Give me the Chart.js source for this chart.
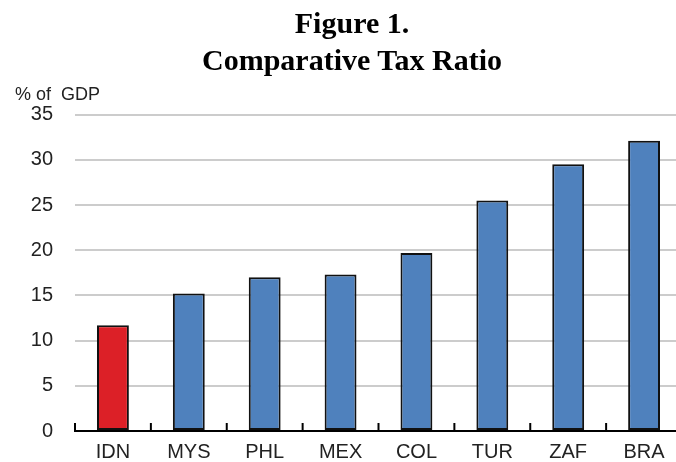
<!DOCTYPE html>
<html>
<head>
<meta charset="utf-8">
<script src="https://cdn.jsdelivr.net/npm/chart.js@4"></script>
<style>
  html, body { margin: 0; padding: 0; background: #fff; overflow: hidden; }
  #wrap { position: relative; width: 676px; height: 462px; overflow: hidden; }
  #title {
    position: absolute; top: 0; left: 0; width: 704px;
    text-align: center; padding-top: 4px;
    font: bold 30px "Liberation Serif", "DejaVu Serif", serif;
    line-height: 37px; color: #000; z-index: 2;
  }
  #taxChart { position: absolute; top: 0; left: 0; }
</style>
</head>
<body>
<div id="wrap">
  <div id="title">Figure 1.<br>Comparative Tax Ratio</div>
  <canvas id="taxChart" width="682" height="465"></canvas>
</div>
<script>
const categories = ['IDN', 'MYS', 'PHL', 'MEX', 'COL', 'TUR', 'ZAF', 'BRA'];
const taxRatio = [11.7, 15.2, 17.0, 17.3, 19.7, 25.5, 29.5, 32.1];
const highlight = 'IDN';
const yMax = 35;
const yStep = 5;
const unitLabel = '% of  GDP';

// small upward tick marks between categories on the x axis
const categoryTicks = {
  id: 'categoryTicks',
  afterDatasetsDraw(chart) {
    const x = chart.scales.x;
    const ctx = chart.ctx;
    const step = x.getPixelForValue(1) - x.getPixelForValue(0);
    ctx.save();
    ctx.strokeStyle = '#000';
    ctx.lineWidth = 2;
    for (let i = 0; i <= categories.length; i++) {
      const px = x.getPixelForValue(i) - step / 2;
      ctx.beginPath();
      ctx.moveTo(px, x.top);
      ctx.lineTo(px, x.top - 8);
      ctx.stroke();
    }
    ctx.restore();
  }
};

new Chart(document.getElementById('taxChart'), {
  type: 'bar',
  data: {
    labels: categories,
    datasets: [{
      data: taxRatio,
      backgroundColor: categories.map(c => c === highlight ? '#dc2027' : '#4f81bd'),
      borderColor: '#111',
      borderWidth: 2,
      borderSkipped: false,
      barPercentage: 0.42,
      categoryPercentage: 1
    }]
  },
  options: {
    responsive: false,
    animation: false,
    layout: { padding: { top: 84, left: 15, right: 0, bottom: 0 } },
    plugins: {
      legend: { display: false },
      tooltip: { enabled: false },
      subtitle: {
        display: true,
        text: unitLabel,
        align: 'start',
        color: '#222',
        font: { family: 'Liberation Sans', size: 18 },
        padding: { top: 0, bottom: 9 }
      }
    },
    scales: {
      x: {
        afterFit: s => { s.height = 29; },
        grid: { display: false, drawTicks: false },
        border: { color: '#000', width: 2 },
        ticks: {
          color: '#222',
          padding: 9,
          font: { family: 'Liberation Sans', size: 20 }
        }
      },
      y: {
        min: 0,
        max: yMax,
        afterFit: s => { s.width = 60; },
        grid: { color: '#cccccc', lineWidth: 2, drawTicks: false },
        border: { display: false },
        ticks: {
          stepSize: yStep,
          color: '#222',
          padding: 22,
          font: { family: 'Liberation Sans', size: 20 }
        }
      }
    }
  },
  plugins: [categoryTicks]
});
</script>
</body>
</html>
